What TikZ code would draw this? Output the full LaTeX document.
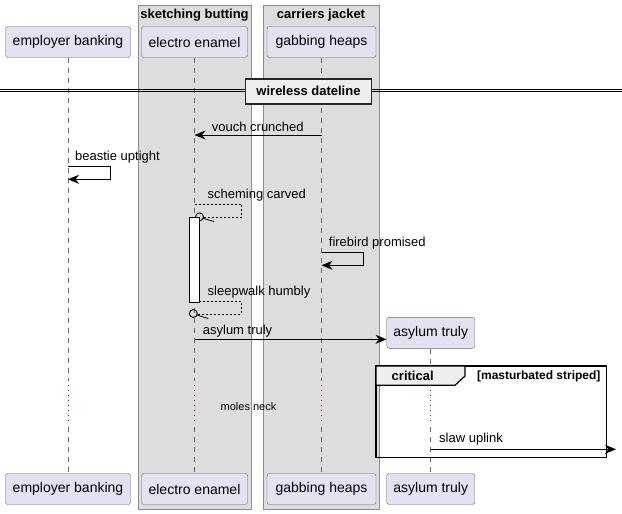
\documentclass[tikz,border=0pt]{standalone}
\usepackage{fontspec}
\setmainfont{Liberation Sans}
\usetikzlibrary{arrows.meta,positioning}
\definecolor{partfill}{HTML}{E2E2F0}
\definecolor{grpfill}{HTML}{DDDDDD}
\definecolor{tabfill}{HTML}{EEEEEE}
\definecolor{delayred}{HTML}{A80036}
\tikzset{
  part/.style={draw=black!60, fill=partfill, rounded corners=2.5pt, minimum height=31pt, inner sep=0pt, font=\fontsize{14}{16}\selectfont},
  grp/.style={draw=black!45, fill=grpfill},
  grptitle/.style={font=\bfseries\fontsize{13}{15}\selectfont, inner sep=0pt},
  lifeline/.style={draw=black!60, dash pattern=on 5pt off 5pt, line width=0.6pt},
  delayline/.style={draw=delayred, dash pattern=on 1pt off 4pt, line width=0.8pt},
  msg/.style={line width=0.9pt, -{Stealth[length=11pt, width=9pt, inset=3.5pt]}},
  retmsg/.style={line width=0.6pt, dash pattern=on 2pt off 2pt},
  lbl/.style={anchor=west, inner sep=0pt, font=\fontsize{13}{15}\selectfont}
}
\begin{document}
\begin{tikzpicture}[x=1pt,y=-1pt]
			\useasboundingbox (0,0) rectangle (622,514);
			% boxes
			\draw[grp] (138,5) rectangle (251,509);
			\draw[grp] (263,5) rectangle (379,509);
			\node[grptitle] (sketching) at (194.5,15.5) {sketching butting};
			\node[grptitle] (carriers) at (321,15.5) {carriers jacket};
			% participants
			\node[part, minimum width=125pt] (employer) at (68,42) {employer banking};
			\node[part, minimum width=106pt] (electro) at (194.5,42) {electro enamel};
			\node[part, minimum width=109pt] (gabbing) at (321.5,42) {gabbing heaps};
			\node[part, minimum width=125pt] (bot-employer) at (68,489) {employer banking};
			\node[part, minimum width=106pt] (bot-electro) at (194.5,489) {electro enamel};
			\node[part, minimum width=109pt] (bot-gabbing) at (321.5,489) {gabbing heaps};
			\node[part, minimum width=88pt] (bot-asylum) at (430.7,489) {asylum truly};
			\node[part, minimum width=88pt] (asylum) at (430.7,332.8) {asylum truly};
			% lifelines
			\foreach \p in {employer,electro,gabbing,asylum} {
				\draw[lifeline] (\p.south) -- (\p.south |- 0,381);
				\draw[delayline] (\p.south |- 0,385) -- (\p.south |- 0,422);
				\draw[lifeline] (\p.south |- 0,427) -- (bot-\p.north);
			}
			% divider
			\draw (0,89) -- (622,89);
			\draw (0,91.6) -- (622,91.6);
			\node[draw=black!85, line width=1.8pt, fill=tabfill, minimum width=126pt, minimum height=25pt, inner sep=0pt, font=\bfseries\fontsize{13}{15}\selectfont] (dateline) at (308.5,91.3) {wireless dateline};
			% messages
			\draw[msg] (gabbing.south |- 0,135) -- (electro.south |- 0,135);
			\node[lbl] (vouch) at (211.7,127) {vouch crunched};
			\draw[msg] (employer.south |- 0,166.7) -- (110.7,166.7) -- (110.7,179.3) -- (employer.south |- 0,179.3);
			\node[lbl] (beastie) at (75,157) {beastie uptight};
			\draw[retmsg] (electro.south |- 0,204.3) -- (241.7,204.3) -- (241.7,217.3) -- (203.5,217.3);
			\draw[line width=0.9pt] (199.5,216.9) circle (4pt);
			\draw[line width=0.8pt] (203,218.3) -- (214,221.5);
			\node[lbl] (scheming) at (207.5,195.5) {scheming carved};
			\draw[fill=white, line width=0.8pt] (189.3,217.3) rectangle (199.3,302.3);
			\draw[msg] (gabbing.south |- 0,252.7) -- (363.3,252.7) -- (363.3,265.3) -- (gabbing.south |- 0,265.3);
			\node[lbl] (firebird) at (328.7,243.5) {firebird promised};
			\draw[retmsg] (199.3,301.7) -- (241.7,301.7) -- (241.7,314) -- (197.5,314);
			\draw[line width=0.9pt] (193.3,313.5) circle (4pt);
			\draw[line width=0.8pt] (197,315) -- (208.3,318.5);
			\node[lbl] (sleepwalk) at (207.5,292) {sleepwalk humbly};
			\draw[msg] (electro.south |- 0,339.3) -- (asylum.west |- 0,339.3);
			\node[lbl] (asylumlbl) at (202.7,331) {asylum truly};
			% delay
			\node[inner sep=0pt, font=\fontsize{11}{13}\selectfont] (moles) at (248.5,406.7) {moles neck};
			% critical
			\draw[line width=1.5pt] (376,366) rectangle (606.7,457.3);
			\draw[fill=tabfill, line width=1.2pt] (376,366) -- (465,366) -- (465,376) -- (455,385.3) -- (376,385.3) -- cycle;
			\node[grptitle] (critical) at (412.7,376) {critical};
			\node[anchor=east, inner sep=0pt, font=\bfseries\fontsize{12}{14}\selectfont] (guard) at (600.7,376.5) {[masturbated striped]};
			\coordinate (uplinkend) at (616,449.3);
			\draw[msg] (asylum.south |- 0,449.3) -- (uplinkend);
			\node[lbl] (slaw) at (439,439.5) {slaw uplink};
		\end{tikzpicture}
\end{document}
